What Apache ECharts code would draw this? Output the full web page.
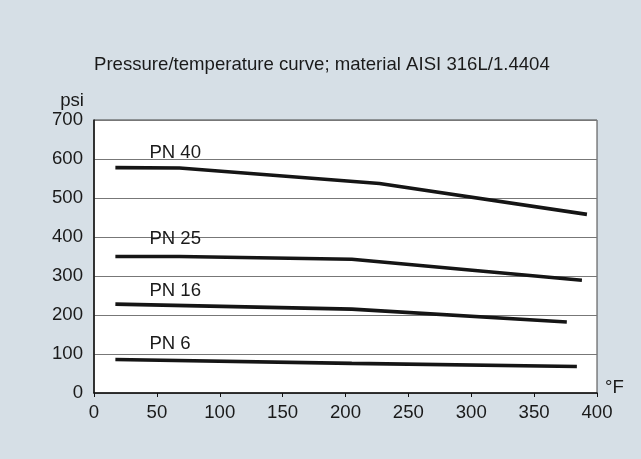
<!DOCTYPE html>
<html>
<head>
<meta charset="utf-8">
<script src="https://cdn.jsdelivr.net/npm/echarts@6/dist/echarts.min.js"></script>
<style>
html,body{margin:0;padding:0;background:#d6dfe6;}
#c{width:641px;height:459px;}
</style>
</head>
<body>
<div id="c"></div>
<script>
// Temperature (°F) / pressure (psi) points per nominal pressure curve
var seriesNames = ['PN 40', 'PN 25', 'PN 16', 'PN 6'];
var pn40 = [[17, 578], [68, 577], [227, 537], [392, 458]];
var pn25 = [[17, 350], [68, 350], [205, 343], [388, 289]];
var pn16 = [[17, 228], [205, 215], [376, 182]];
var pn6  = [[17, 86], [205, 76], [384, 68]];
var xTicks = [0, 50, 100, 150, 200, 250, 300, 350, 400];
var yTicks = [0, 100, 200, 300, 400, 500, 600, 700];

var curves = [pn40, pn25, pn16, pn6];
var labelOffsets = [[34, -5], [34, -8], [34, -4], [34, -6]];
var FONT = 'Liberation Sans, Arial, sans-serif';
var FS = 18.6;

var chart = echarts.init(document.getElementById('c'));
chart.setOption({
  backgroundColor: '#d6dfe6',
  animation: false,
  title: {
    text: 'Pressure/temperature curve; material AISI 316L/1.4404',
    left: 89, top: 50,
    textStyle: {fontFamily: FONT, fontSize: FS, fontWeight: 'normal', color: '#1a1a1a'}
  },
  grid: {
    left: 94, right: 44, top: 120, bottom: 66,
    show: true, backgroundColor: '#ffffff', borderColor: '#444', borderWidth: 1
  },
  xAxis: {
    type: 'value', min: xTicks[0], max: xTicks[xTicks.length - 1], interval: 50,
    name: '°F', nameLocation: 'end', nameGap: 8,
    nameTextStyle: {fontFamily: FONT, fontSize: FS, color: '#1a1a1a', verticalAlign: 'bottom', padding: [0, 0, -4, 0]},
    axisLine: {lineStyle: {color: '#111', width: 1.5}},
    axisTick: {show: true, length: 4, lineStyle: {color: '#111'}},
    axisLabel: {fontFamily: FONT, fontSize: FS, color: '#1a1a1a', margin: 10},
    splitLine: {show: false}
  },
  yAxis: {
    type: 'value', min: yTicks[0], max: yTicks[yTicks.length - 1], interval: 100,
    name: 'psi', nameLocation: 'end', nameGap: 10,
    nameTextStyle: {fontFamily: FONT, fontSize: FS, color: '#1a1a1a', align: 'right', padding: [0, 10, 0, 0]},
    axisLine: {show: true, lineStyle: {color: '#111', width: 1.5}},
    axisTick: {show: false},
    axisLabel: {fontFamily: FONT, fontSize: FS, color: '#1a1a1a', margin: 11},
    splitLine: {show: true, lineStyle: {color: '#777', width: 1}}
  },
  series: curves.map(function (pts, i) {
    return {
      name: seriesNames[i],
      type: 'line',
      symbol: 'circle', symbolSize: 0, showSymbol: true,
      lineStyle: {color: '#151515', width: 3.6},
      itemStyle: {color: '#151515'},
      data: pts.map(function (p, j) {
        var d = {value: p};
        if (j === 0) {
          d.label = {
            show: true, formatter: seriesNames[i], position: 'top', distance: 0,
            align: 'left', verticalAlign: 'bottom', offset: labelOffsets[i],
            fontFamily: FONT, fontSize: FS, color: '#1a1a1a'
          };
        }
        return d;
      })
    };
  })
});
</script>
</body>
</html>
